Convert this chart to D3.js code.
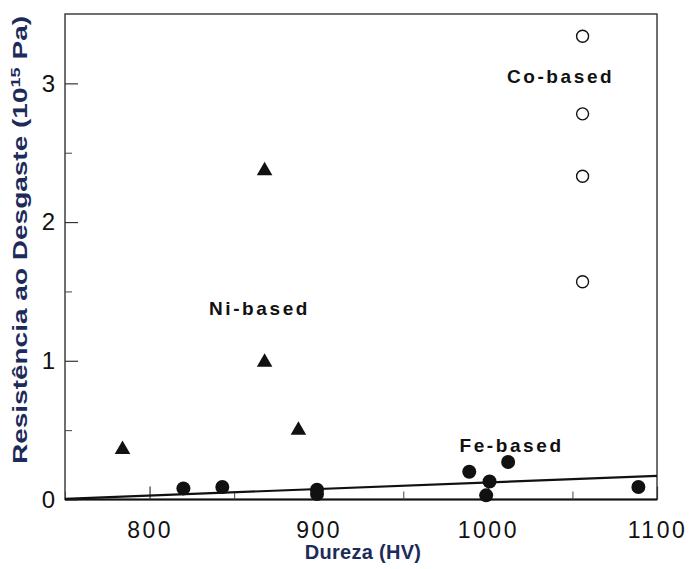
<!DOCTYPE html>
<html>
<head>
<meta charset="utf-8">
<script src="https://cdn.jsdelivr.net/npm/d3@7"></script>
<style>
  html, body { margin: 0; padding: 0; background: #fff; }
  svg { display: block; }
</style>
</head>
<body>
<svg id="chart" width="691" height="569"></svg>
<script>
// ---- data ----
const niHardness = [784, 868, 868, 888];
const niWear     = [0.36, 2.37, 0.99, 0.50];

const coHardness = [1056, 1056, 1056, 1056];
const coWear     = [3.34, 2.78, 2.33, 1.57];

const feHardness = [820, 843, 899, 899, 989, 1001, 999, 1012, 1089];
const feWear     = [0.08, 0.09, 0.07, 0.04, 0.20, 0.13, 0.03, 0.27, 0.09];

const fitHardness = [750, 1100];
const fitWear     = [0.005, 0.17];

const xTickValues = [800, 900, 1000, 1100];
const xMinorTicks = [750, 850, 950, 1050];
const yTickValues = [0, 1, 2, 3];
const yMinorTicks = [0.5, 1.5, 2.5];

const groupLabels = ["Co-based", "Ni-based", "Fe-based"];
const groupLabelX = [1043, 865, 1014];
const groupLabelY = [3.0, 1.33, 0.342];

// ---- layout ----
const svg = d3.select("#chart");
const pL = 65, pR = 657, pT = 14, pB = 499.5;

const x = d3.scaleLinear().domain([750, 1100]).range([pL, pR]);
const y = d3.scaleLinear().domain([0, 3.5]).range([pB, pT]);

const ink = "#111";
const navy = "#1d2b5b";
const font = "Liberation Sans, Arial, sans-serif";

// frame
svg.append("rect")
  .attr("x", pL).attr("y", pT)
  .attr("width", pR - pL).attr("height", pB - pT)
  .attr("fill", "none").attr("stroke", "#333").attr("stroke-width", 1.4);
svg.append("line")
  .attr("x1", pL).attr("x2", pR).attr("y1", pB).attr("y2", pB)
  .attr("stroke", ink).attr("stroke-width", 2.2);

// axes (ticks inward)
const xAxis = d3.axisBottom(x).tickValues(xTickValues).tickSize(-13).tickPadding(22)
  .tickFormat(d3.format("d"));
const gx = svg.append("g").attr("transform", `translate(0,${pB})`).call(xAxis);
gx.select(".domain").remove();
gx.selectAll(".tick line").attr("stroke", "#333").attr("stroke-width", 1.2);
gx.selectAll(".tick text")
  .attr("fill", ink).attr("font-family", font)
  .attr("font-size", 23).attr("letter-spacing", "2.5px");

const xMinor = d3.axisBottom(x).tickValues(xMinorTicks).tickSize(-8).tickFormat("");
const gxm = svg.append("g").attr("transform", `translate(0,${pB})`).call(xMinor);
gxm.select(".domain").remove();
gxm.selectAll(".tick line").attr("stroke", "#444").attr("stroke-width", 1);

const yAxis = d3.axisLeft(y).tickValues(yTickValues).tickSize(-13).tickPadding(10)
  .tickFormat(d3.format("d"));
const gy = svg.append("g").attr("transform", `translate(${pL},0)`).call(yAxis);
gy.select(".domain").remove();
gy.selectAll(".tick line").attr("stroke", "#333").attr("stroke-width", 1.2);
gy.selectAll(".tick text")
  .attr("fill", ink).attr("font-family", font)
  .attr("font-size", 24);

const yMinor = d3.axisLeft(y).tickValues(yMinorTicks).tickSize(-7).tickFormat("");
const gym = svg.append("g").attr("transform", `translate(${pL},0)`).call(yMinor);
gym.select(".domain").remove();
gym.selectAll(".tick line").attr("stroke", "#444").attr("stroke-width", 1);

// fit line
const fitLine = d3.line().x(d => x(d[0])).y(d => y(d[1]));
svg.append("path")
  .datum(d3.zip(fitHardness, fitWear))
  .attr("d", fitLine)
  .attr("fill", "none").attr("stroke", ink).attr("stroke-width", 2.2);

// Ni-based triangles
svg.append("g").selectAll("path")
  .data(d3.zip(niHardness, niWear))
  .join("path")
  .attr("d", d3.symbol(d3.symbolTriangle, 105))
  .attr("transform", d => `translate(${x(d[0])},${y(d[1])})`)
  .attr("fill", ink);

// Fe-based filled circles
svg.append("g").selectAll("circle")
  .data(d3.zip(feHardness, feWear))
  .join("circle")
  .attr("cx", d => x(d[0])).attr("cy", d => y(d[1]))
  .attr("r", 7).attr("fill", ink);

// Co-based open circles
svg.append("g").selectAll("circle")
  .data(d3.zip(coHardness, coWear))
  .join("circle")
  .attr("cx", d => x(d[0])).attr("cy", d => y(d[1]))
  .attr("r", 6).attr("fill", "#fff").attr("stroke", ink).attr("stroke-width", 1.4);

// group labels
svg.append("g").selectAll("text")
  .data(groupLabels)
  .join("text")
  .attr("x", (d, i) => x(groupLabelX[i]))
  .attr("y", (d, i) => y(groupLabelY[i]))
  .attr("text-anchor", "middle")
  .attr("font-family", font)
  .attr("font-weight", "bold").attr("font-size", 19)
  .attr("letter-spacing", "2.6px")
  .attr("fill", ink)
  .text(d => d);

// axis titles
svg.append("text")
  .attr("x", (pL + pR) / 2 + 2).attr("y", 559)
  .attr("text-anchor", "middle")
  .attr("font-family", font)
  .attr("font-weight", "bold").attr("font-size", 20)
  .attr("letter-spacing", "0.3px")
  .attr("fill", navy)
  .text("Dureza (HV)");

const yt = svg.append("text")
  .attr("transform", `translate(27,240) rotate(-90) scale(1.4,1)`)
  .attr("text-anchor", "middle")
  .attr("font-family", font)
  .attr("font-weight", "bold").attr("font-size", 20)
  .attr("fill", navy);
yt.append("tspan").text("Resistência ao Desgaste (10");
yt.append("tspan").attr("font-size", 13).attr("dy", -7).text("15");
yt.append("tspan").attr("dy", 7).text(" Pa)");
</script>
</body>
</html>
